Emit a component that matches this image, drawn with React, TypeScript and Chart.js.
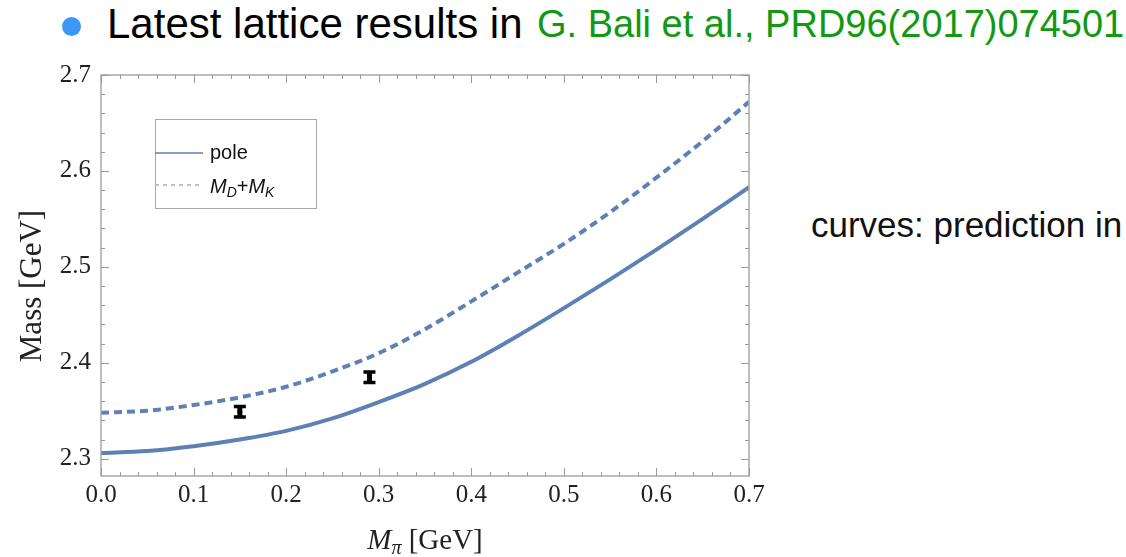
import React, { useEffect, useRef } from 'react';
import { Chart, registerables } from 'chart.js';

Chart.register(...registerables);

// ---- data ----
const curveX = [0, 0.05, 0.1, 0.15, 0.2, 0.25, 0.3, 0.35, 0.4, 0.45, 0.5, 0.55, 0.6, 0.65, 0.7];
const poleY = [2.306, 2.308, 2.313, 2.320, 2.329, 2.342, 2.359, 2.378, 2.401, 2.428, 2.457, 2.487, 2.518, 2.550, 2.583];
const thresholdY = [2.348, 2.350, 2.356, 2.364, 2.375, 2.391, 2.410, 2.435, 2.464, 2.494, 2.524, 2.557, 2.593, 2.631, 2.672];
const latticeX = [0.15, 0.29];
const latticeY = [2.349, 2.385];
const latticeErr = [0.0055, 0.0055];
const xTicks = [0, 0.1, 0.2, 0.3, 0.4, 0.5, 0.6, 0.7];
const yTicks = [2.3, 2.4, 2.5, 2.6, 2.7];
const xRange = [0, 0.7];
const yRange = [2.282, 2.7];
const minorStep = 0.02;

const BLUE = '#5E81B5';
const FRAME = '#a8a8a8';

const framePlugin = {
  id: 'mmaFrame',
  afterDatasetsDraw(chart: any) {
    const ctx = chart.ctx as CanvasRenderingContext2D;
    const { left, right, top, bottom } = chart.chartArea;
    const xs = chart.scales.x;
    const ys = chart.scales.y;
    ctx.save();
    // error bars
    const meta = chart.getDatasetMeta(2);
    meta.data.forEach((pt: any, i: number) => {
      const px = pt.x;
      const y1 = ys.getPixelForValue(latticeY[i] - latticeErr[i]);
      const y2 = ys.getPixelForValue(latticeY[i] + latticeErr[i]);
      ctx.strokeStyle = '#000';
      ctx.lineWidth = 5;
      ctx.beginPath();
      ctx.moveTo(px, y1);
      ctx.lineTo(px, y2);
      ctx.stroke();
      ctx.lineWidth = 3.5;
      ctx.beginPath();
      ctx.moveTo(px - 6, y1);
      ctx.lineTo(px + 6, y1);
      ctx.moveTo(px - 6, y2);
      ctx.lineTo(px + 6, y2);
      ctx.stroke();
    });

    // frame
    ctx.strokeStyle = FRAME;
    ctx.lineWidth = 1.5;
    ctx.strokeRect(left, top, right - left, bottom - top);
    // ticks
    ctx.strokeStyle = '#999';
    ctx.lineWidth = 1;
    const isMajor = (v: number, majors: number[]) => majors.some((m) => Math.abs(m - v) < 1e-6);
    ctx.beginPath();
    for (let v = xRange[0]; v <= xRange[1] + 1e-9; v += minorStep) {
      const px = Math.round(xs.getPixelForValue(v)) + 0.5;
      const len = isMajor(v, xTicks) ? 8 : 4;
      ctx.moveTo(px, bottom);
      ctx.lineTo(px, bottom - len);
      ctx.moveTo(px, top);
      ctx.lineTo(px, top + len);
    }
    const yStart = Math.ceil(yRange[0] / minorStep) * minorStep;
    for (let v = yStart; v <= yRange[1] + 1e-9; v += minorStep) {
      const py = Math.round(ys.getPixelForValue(v)) + 0.5;
      const len = isMajor(v, yTicks) ? 8 : 4;
      ctx.moveTo(left, py);
      ctx.lineTo(left + len, py);
      ctx.moveTo(right, py);
      ctx.lineTo(right - len, py);
    }
    ctx.stroke();

    // legend box
    const lx = 155, ly = 119, lw = 161, lh = 89;
    ctx.fillStyle = '#fff';
    ctx.fillRect(lx, ly, lw, lh);
    ctx.strokeStyle = FRAME;
    ctx.lineWidth = 1;
    ctx.strokeRect(lx + 0.5, ly + 0.5, lw, lh);
    ctx.strokeStyle = BLUE;
    ctx.lineWidth = 1.5;
    ctx.beginPath();
    ctx.moveTo(lx, 153);
    ctx.lineTo(203, 153);
    ctx.stroke();
    ctx.strokeStyle = '#9bb1d9';
    ctx.setLineDash([4, 4]);
    ctx.beginPath();
    ctx.moveTo(lx, 185);
    ctx.lineTo(203, 185);
    ctx.stroke();
    ctx.setLineDash([]);
    ctx.fillStyle = '#111';
    ctx.textBaseline = 'alphabetic';
    ctx.textAlign = 'left';
    ctx.font = '20px "Liberation Sans", Arial, sans-serif';
    ctx.fillText('pole', 210, 159);
    let tx = 210;
    const by = 193;
    const part = (t: string, font: string, dy: number) => {
      ctx.font = font;
      ctx.fillText(t, tx, by + dy);
      tx += ctx.measureText(t).width;
    };
    part('M', 'italic 20px "Liberation Sans", Arial, sans-serif', 0);
    part('D', 'italic 14px "Liberation Sans", Arial, sans-serif', 4);
    part('+', '20px "Liberation Sans", Arial, sans-serif', 0);
    part('M', 'italic 20px "Liberation Sans", Arial, sans-serif', 0);
    part('K', 'italic 14px "Liberation Sans", Arial, sans-serif', 4);

    // axis titles
    ctx.fillStyle = '#222';
    ctx.font = '31px "Liberation Serif", "Times New Roman", serif';
    ctx.save();
    ctx.translate(41, 286);
    ctx.rotate(-Math.PI / 2);
    ctx.textAlign = 'center';
    ctx.fillText('Mass [GeV]', 0, 0);
    ctx.restore();

    const f1 = 'italic 29px "Liberation Serif", "Times New Roman", serif';
    const f2 = 'italic 20px "Liberation Serif", "Times New Roman", serif';
    const f3 = '29px "Liberation Serif", "Times New Roman", serif';
    ctx.font = f1; const w1 = ctx.measureText('M').width;
    ctx.font = f2; const w2 = ctx.measureText('π').width;
    ctx.font = f3; const w3 = ctx.measureText(' [GeV]').width;
    let xx = 425 - (w1 + w2 + w3) / 2;
    const bl = 549;
    ctx.textAlign = 'left';
    ctx.font = f1; ctx.fillText('M', xx, bl); xx += w1;
    ctx.font = f2; ctx.fillText('π', xx, bl + 5); xx += w2;
    ctx.font = f3; ctx.fillText(' [GeV]', xx, bl);
    ctx.restore();
  },
};

export default function App() {
  const ref = useRef<HTMLCanvasElement | null>(null);
  useEffect(() => {
    if (!ref.current) return;
    const chart = new Chart(ref.current, {
      type: 'line',
      data: {
        datasets: [
          {
            label: 'pole',
            data: curveX.map((x, i) => ({ x, y: poleY[i] })),
            borderColor: BLUE,
            borderWidth: 4,
            pointRadius: 0,
            cubicInterpolationMode: 'monotone',
            fill: false,
          },
          {
            label: 'MD+MK',
            data: curveX.map((x, i) => ({ x, y: thresholdY[i] })),
            borderColor: BLUE,
            borderWidth: 4,
            borderDash: [8, 5],
            borderCapStyle: 'butt',
            pointRadius: 0,
            cubicInterpolationMode: 'monotone',
            fill: false,
          },
          {
            label: 'lattice',
            data: latticeX.map((x, i) => ({ x, y: latticeY[i] })),
            showLine: false,
            pointRadius: 2.5,
            pointStyle: 'rect',
            backgroundColor: '#000',
            borderColor: '#000',
          },
        ],
      } as any,
      options: {
        animation: false,
        responsive: false,
        maintainAspectRatio: false,
        layout: { padding: { left: 0, top: 75, right: 377, bottom: 0 } },
        plugins: { legend: { display: false }, tooltip: { enabled: false }, title: { display: false } },
        scales: {
          x: {
            type: 'linear',
            min: xRange[0],
            max: xRange[1],
            afterFit: (s: any) => { s.height = 81; },
            afterBuildTicks: (s: any) => { s.ticks = xTicks.map((v) => ({ value: v })); },
            ticks: {
              font: { family: '"Liberation Serif", "Times New Roman", serif', size: 25 },
              color: '#222',
              padding: 4,
              maxRotation: 0,
              autoSkip: false,
              callback: (v: any) => Number(v).toFixed(1),
            },
            grid: { display: false, drawTicks: false },
            border: { display: false },
          },
          y: {
            type: 'linear',
            min: yRange[0],
            max: yRange[1],
            afterFit: (s: any) => { s.width = 101; },
            afterBuildTicks: (s: any) => { s.ticks = yTicks.map((v) => ({ value: v })); },
            ticks: {
              font: { family: '"Liberation Serif", "Times New Roman", serif', size: 25 },
              color: '#222',
              padding: 10,
              autoSkip: false,
              callback: (v: any) => Number(v).toFixed(1),
            },
            grid: { display: false, drawTicks: false },
            border: { display: false },
          },
        },
      } as any,
      plugins: [framePlugin],
    });
    return () => chart.destroy();
  }, []);

  const sans = '"Liberation Sans", Arial, Helvetica, sans-serif';
  return (
    <div style={{ position: 'fixed', left: 0, top: 0, width: 1126, height: 557, background: '#fff', overflow: 'hidden' }}>
      <div style={{ position: 'absolute', left: 62, top: 17, width: 19, height: 19, borderRadius: '50%', background: '#3d97f7' }} />
      <div style={{ position: 'absolute', left: 107, top: 3.4, fontFamily: sans, fontSize: 42, lineHeight: 1, color: '#000', whiteSpace: 'nowrap' }}>
        Latest lattice results in
      </div>
      <div style={{ position: 'absolute', left: 537, top: 4.8, fontFamily: sans, fontSize: 38, lineHeight: 1, color: '#129912', whiteSpace: 'nowrap' }}>
        G. Bali et al., PRD96(2017)074501
      </div>
      <div style={{ position: 'absolute', left: 811, top: 207.4, fontFamily: sans, fontSize: 35, lineHeight: 1, color: '#111', whiteSpace: 'nowrap' }}>
        curves: prediction in
      </div>
      <canvas ref={ref} width={1126} height={557} style={{ position: 'absolute', left: 0, top: 0, width: 1126, height: 557 }} />
    </div>
  );
}
